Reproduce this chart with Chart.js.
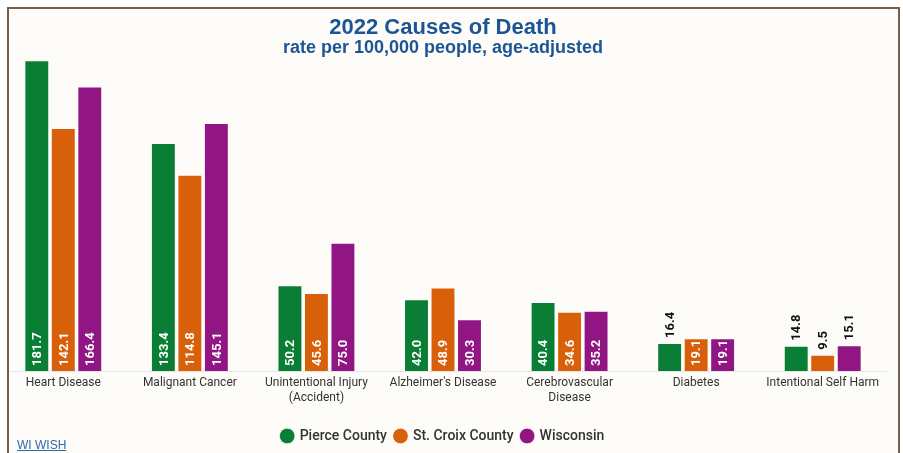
<!DOCTYPE html>
<html>
<head>
<meta charset="utf-8">
<script src="https://cdn.jsdelivr.net/npm/chart.js@4.4.0/dist/chart.umd.min.js"></script>
<style>
  html, body { margin: 0; padding: 0; background: #ffffff; }
  #wrap { position: relative; width: 903px; height: 453px; overflow: hidden; }
  #frame { position: absolute; left: 7px; top: 7px; width: 889px; height: 460px;
           border: 2px solid #7a5c49; background: #fdfcf8; }
  #chart { position: absolute; left: 0; top: 0; }
  #source { position: absolute; left: 17px; top: 438px; font: 12px "Liberation Sans", Arial, sans-serif;
            color: #2f6aa8; text-decoration: underline; }
</style>
</head>
<body>
<div id="wrap">
  <div id="frame"></div>
  <canvas id="chart" width="903" height="453"></canvas>
  <span id="source">WI WISH</span>
</div>
<script>
// categorias e valores (taxa por 100.000, ajustada por idade)
const categorias = [
  "Heart Disease",
  "Malignant Cancer",
  ["Unintentional Injury", "(Accident)"],
  "Alzheimer's Disease",
  ["Cerebrovascular", "Disease"],
  "Diabetes",
  "Intentional Self Harm"
];
const pierce = [181.7, 133.4, 50.2, 42.0, 40.4, 16.4, 14.8];
const stCroix = [142.1, 114.8, 45.6, 48.9, 34.6, 19.1, 9.5];
const wisconsin = [166.4, 145.1, 75.0, 30.3, 35.2, 19.1, 15.1];
const series = ["Pierce County", "St. Croix County", "Wisconsin"];
const cores = ["#0a7e34", "#d9600a", "#921584"];

// linha de base do eixo x
const linhaBase = {
  id: "linhaBase",
  beforeDatasetsDraw(chart) {
    const ctx = chart.ctx;
    const y = chart.scales.y.getPixelForValue(0);
    ctx.save();
    ctx.strokeStyle = "#e6e6e6";
    ctx.lineWidth = 1;
    ctx.beginPath();
    ctx.moveTo(10, Math.round(y) + 0.5);
    ctx.lineTo(887, Math.round(y) + 0.5);
    ctx.stroke();
    ctx.restore();
  }
};

// rótulos verticais: dentro da barra (branco) ou acima (preto)
const rotulos = {
  id: "rotulos",
  afterDatasetsDraw(chart) {
    const ctx = chart.ctx;
    ctx.save();
    ctx.font = "bold 13px Roboto";
    ctx.textBaseline = "middle";
    chart.data.datasets.forEach((ds, i) => {
      chart.getDatasetMeta(i).data.forEach((bar, j) => {
        const texto = ds.data[j].toFixed(1);
        const w = ctx.measureText(texto).width;
        const altura = bar.base - bar.y;
        ctx.save();
        if (w + 3 <= altura) {
          ctx.translate(bar.x, bar.base - 5);
          ctx.fillStyle = "#ffffff";
        } else {
          ctx.translate(bar.x, bar.y - 5);
          ctx.fillStyle = "#111111";
        }
        ctx.rotate(-Math.PI / 2);
        ctx.textAlign = "left";
        ctx.fillText(texto, 0, 1);
        ctx.restore();
      });
    });
    ctx.restore();
  }
};

const ctx = document.getElementById("chart");
new Chart(ctx, {
  type: "bar",
  data: {
    labels: categorias,
    datasets: [pierce, stCroix, wisconsin].map((valores, i) => ({
      label: series[i],
      data: valores,
      backgroundColor: cores[i],
      borderColor: "rgba(255,255,255,0.7)",
      borderWidth: 1,
      categoryPercentage: 0.628,
      barPercentage: 0.94
    }))
  },
  options: {
    responsive: false,
    animation: false,
    layout: { padding: { left: 0, right: 17, top: 0, bottom: 0 } },
    scales: {
      x: {
        grid: { display: false, drawTicks: false },
        border: { display: false },
        ticks: {
          color: "#333333",
          font: { family: "Roboto", size: 12, lineHeight: 1.25 },
          padding: 4,
          maxRotation: 0,
          autoSkip: false
        },
        afterFit: (scale) => { scale.height = 50; }
      },
      y: {
        display: false,
        min: 0,
        max: 182.5
      }
    },
    plugins: {
      title: {
        display: true,
        text: "2022 Causes of Death",
        color: "#1b5596",
        font: { family: "Liberation Sans", size: 22, weight: "bold", lineHeight: 1.0 },
        padding: { top: 17, bottom: 0 }
      },
      subtitle: {
        display: true,
        text: "rate per 100,000 people, age-adjusted",
        color: "#1b5596",
        font: { family: "Liberation Sans", size: 18, weight: "bold", lineHeight: 1.0 },
        padding: { top: 0, bottom: 2 }
      },
      legend: {
        position: "bottom",
        labels: {
          usePointStyle: true,
          pointStyle: "circle",
          boxWidth: 11,
          boxHeight: 11,
          padding: 8,
          color: "#333333",
          font: { family: "Roboto", size: 14, weight: "500" }
        }
      },
      tooltip: { enabled: false }
    }
  },
  plugins: [linhaBase, rotulos]
});
</script>
</body>
</html>
